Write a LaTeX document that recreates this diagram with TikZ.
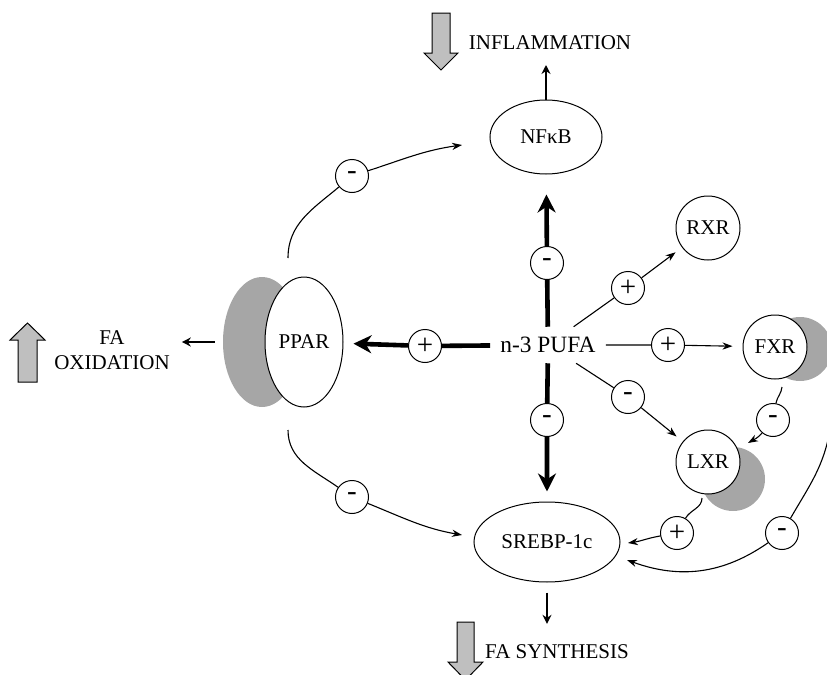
\documentclass[tikz,border=0pt]{standalone}
\usepackage{fontspec}
\setmainfont{Liberation Serif}
\usetikzlibrary{arrows.meta,shapes.geometric}
\tikzset{>={Stealth[length=5pt,width=3.6pt]}}
\tikzset{
  factor/.style={draw,circle,fill=white,line width=0.5pt,minimum size=32pt,inner sep=0pt,font=\fontsize{10.5}{12}\selectfont},
  oval/.style={draw,ellipse,fill=white,line width=0.5pt,inner sep=0pt,font=\fontsize{10.5}{12}\selectfont},
  backshade/.style={fill=black!35,draw=none},
  sign/.style={draw,circle,fill=white,line width=0.5pt,minimum size=16.5pt,inner sep=0pt,font=\fontsize{14.5}{14.5}\selectfont},
  link/.style={->,line width=0.55pt},
  strong/.style={-{Stealth[length=9pt,width=9pt]},line width=2.3pt},
  effect/.style={-{Stealth[length=4.5pt,width=4.5pt]},line width=1.2pt},
  bigarrow/.style={fill=black!25,draw,line width=0.5pt},
  outcome/.style={font=\fontsize{10.5}{12.5}\selectfont}
}

\begin{document}
\begin{tikzpicture}[x=0.5pt,y=-0.5pt]
    \useasboundingbox (0,0) rectangle (827,675);

    % shadows behind the receptors
    \fill[backshade] (262,342) ellipse [x radius=39, y radius=65];
    \fill[backshade] (800,349) circle [radius=32];
    \fill[backshade] (733,479) circle [radius=32];

    \node[oval,minimum width=56pt,minimum height=37pt] (nfkb) at (546,137) {NFκB};
    \node[oval,minimum width=39pt,minimum height=65pt] (ppar) at (304,342) {PPAR};
    \node[oval,minimum width=73pt,minimum height=40pt] (srebp) at (547,542) {SREBP-1c};
    \node[factor] (rxr) at (708,228) {RXR};
    \node[factor] (fxr) at (775,347) {FXR};
    \node[factor] (lxr) at (708,462) {LXR};
    \node[font=\fontsize{11.7}{14}\selectfont,inner sep=5pt] (pufa) at (548,345) {n-3 PUFA};

    % outcomes
    \node[outcome] (inflam) at (550,43) {INFLAMMATION};
    \node[outcome,align=center] (faox) at (112,350) {FA\\OXIDATION};
    \node[outcome] (fasyn) at (557,652) {FA SYNTHESIS};
    \draw[bigarrow] (432,13) -- (450,13) -- (450,53) -- (458,53) -- (441,70) -- (424,53) -- (432,53) -- cycle;
    \draw[bigarrow] (18,382) -- (37,382) -- (37,340) -- (45,340) -- (27.5,323) -- (10,340) -- (18,340) -- cycle;
    \draw[bigarrow] (457,622) -- (474,622) -- (474,662) -- (483,662) -- (465.5,680) -- (448,662) -- (457,662) -- cycle;
    \draw[effect,shorten >=11pt] (nfkb) -- (nfkb |- inflam);
    \draw[effect,shorten <=25pt,shorten >=2.5pt] (ppar.west) -- (faox.east |- ppar.west);
    \draw[effect,shorten <=5pt,shorten >=7pt] (srebp.south) -- (srebp.south |- fasyn.north);

    % signs
    \node[sign] (s-nf) at (547,263) {-};
    \node[sign] (s-sr) at (547,420) {-};
    \node[sign] (s-pp) at (425,346) {+};
    \node[sign] (s-rx) at (628,288) {+};
    \node[sign] (s-fx) at (668,345) {+};
    \node[sign] (s-lx) at (628,397) {-};
    \node[sign] (s-ppnf) at (352,176) {-};
    \node[sign] (s-ppsr) at (352,497) {-};
    \node[sign] (s-fxlx) at (773,420) {-};
    \node[sign] (s-lxsr) at (677,533) {+};
    \node[sign] (s-fxsr) at (782,533) {-};

    % free ends
    \coordinate (ppar-up) at (288,258);
    \coordinate (ppar-dn) at (288,430);
    \coordinate (nfkb-in) at (462,145);
    \coordinate (srebp-in1) at (462,535);
    \coordinate (srebp-in2) at (628,543);
    \coordinate (srebp-in3) at (627,560);
    \coordinate (fxr-out) at (782,387);
    \coordinate (lxr-in) at (748,443);
    \coordinate (lxr-out) at (702,498);
    \coordinate (fxr-far) at (830,430);

    % n-3 PUFA actions
    \draw[strong,shorten >=10pt] (pufa) -- (s-nf) -- (nfkb);
    \draw[strong,shorten >=5pt] (pufa) -- (s-sr) -- (srebp);
    \draw[strong,shorten >=5pt] (pufa) -- (s-pp) -- (ppar);
    \draw[link,shorten >=4pt] (pufa) -- (s-rx) -- (rxr);
    \draw[link,shorten >=5pt] (pufa) -- (s-fx) -- (fxr);
    \draw[link,shorten >=4pt] (pufa) -- (s-lx) -- (lxr);

    % cross talk
    \draw[link] (ppar-up) to[out=90,in=220] (s-ppnf) to[out=18,in=188] (nfkb-in);
    \draw[link] (ppar-dn) to[out=-90,in=145] (s-ppsr) to[out=-22,in=170] (srebp-in1);
    \draw[link] (fxr-out) to[out=-95,in=80] (s-fxlx) to[out=-130,in=30] (lxr-in);
    \draw[link] (lxr-out) to[out=-90,in=60] (s-lxsr) to[out=190,in=8] (srebp-in2);
    \draw[link] (fxr-far) to[out=-100,in=60] (s-fxsr) to[out=-145,in=-20] (srebp-in3);
\end{tikzpicture}
\end{document}
